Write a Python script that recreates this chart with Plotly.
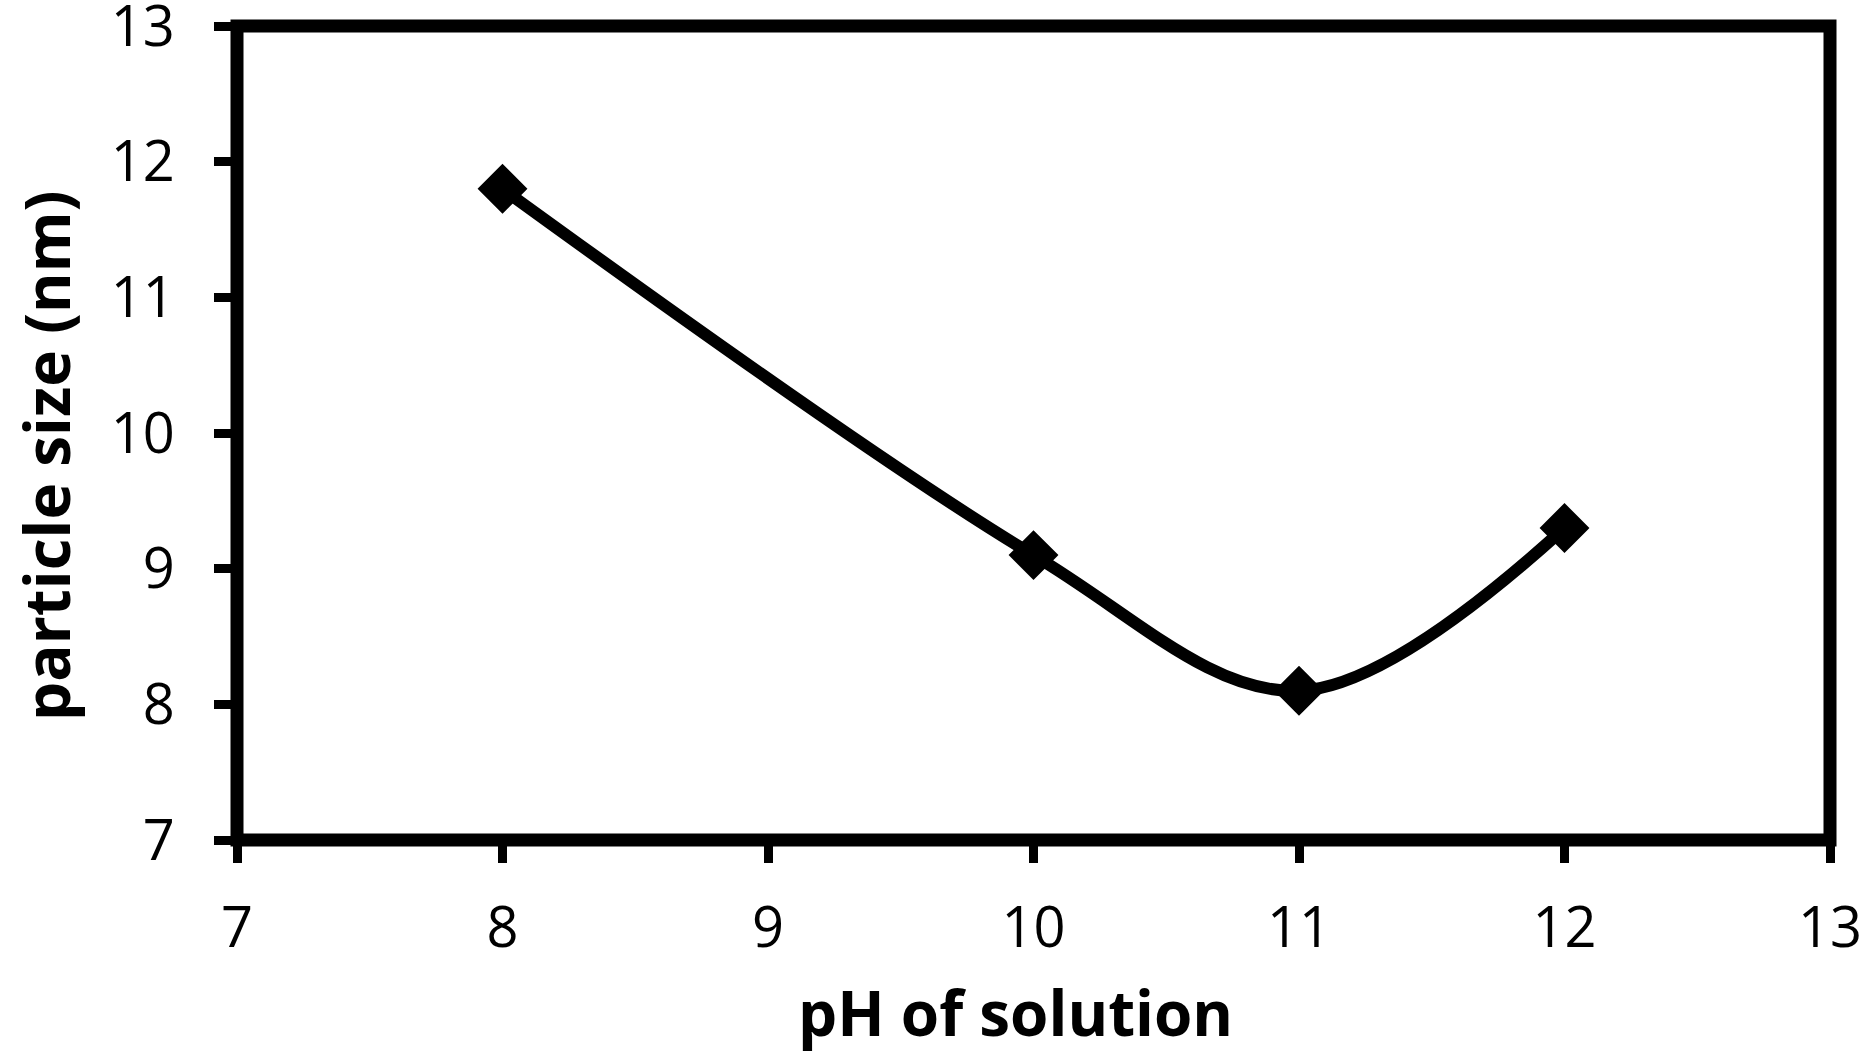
import plotly.graph_objects as go

ph = [8, 10, 11, 12]
size_nm = [11.8, 9.1, 8.1, 9.3]
x_ticks = [7, 8, 9, 10, 11, 12, 13]
y_ticks = [7, 8, 9, 10, 11, 12, 13]
x_title = "pH of solution"
y_title = "particle size (nm)"

FONT = "Open Sans"

fig = go.Figure()
fig.add_trace(go.Scatter(
    x=ph, y=size_nm, mode="lines+markers",
    line=dict(color="black", width=12, shape="spline", smoothing=1.0),
    marker=dict(symbol="diamond", size=34, color="black",
                line=dict(color="black", width=4)),
    cliponaxis=False, showlegend=False,
))

# frame around plot area
fig.add_shape(type="rect", xref="paper", yref="paper", x0=0, x1=1, y0=0, y1=1,
              line=dict(color="black", width=13), layer="above")

axis_common = dict(
    showgrid=False, zeroline=False, showline=False, automargin=False,
    ticks="outside", ticklen=22, tickwidth=9, tickcolor="black",
    tickfont=dict(family=FONT, size=56, color="black"),
    ticklabeloverflow="allow",
)

fig.update_xaxes(range=[7, 13], tickvals=x_ticks, ticklabelstandoff=17, **axis_common)
fig.update_yaxes(range=[7, 13], tickvals=y_ticks, ticklabelstandoff=28, **axis_common)

title_font = dict(family=FONT, size=62, color="black")
fig.add_annotation(text="<b>" + x_title + "</b>", xref="paper", yref="paper",
                   x=0.4884, y=-0.2113, xanchor="center", yanchor="middle",
                   showarrow=False, font=title_font)
fig.add_annotation(text="<b>" + y_title + "</b>", xref="paper", yref="paper",
                   x=-0.1199, y=0.473, xanchor="center", yanchor="middle",
                   textangle=-90, showarrow=False, font=title_font)

fig.update_layout(
    width=1871, height=1053,
    margin=dict(l=237, r=41, t=26, b=213),
    plot_bgcolor="white", paper_bgcolor="white",
)

fig.write_html("out.html", config={"displayModeBar": False},
               post_script="document.body.style.margin='0';")
